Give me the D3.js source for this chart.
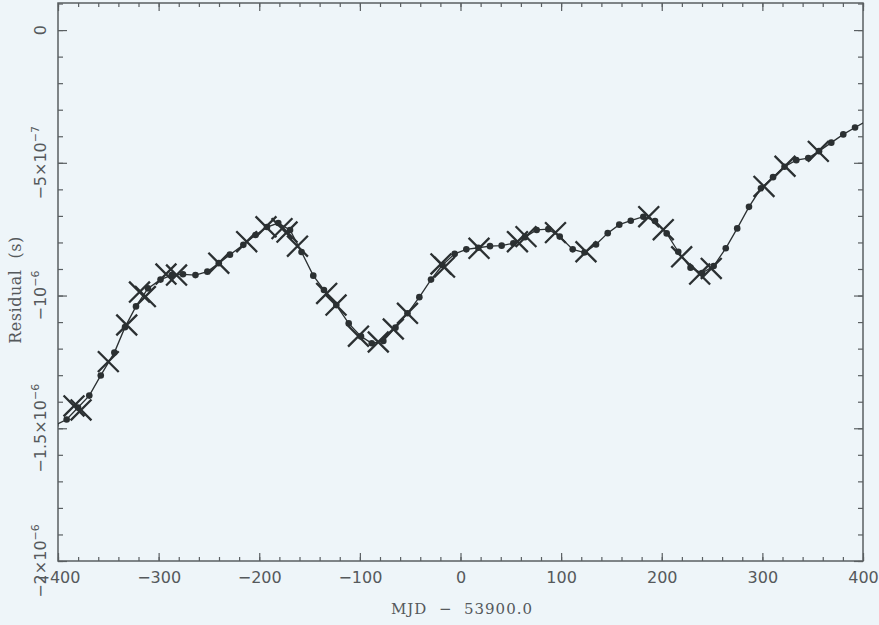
<!DOCTYPE html>
<html>
<head>
<meta charset="utf-8">
<script src="https://cdn.jsdelivr.net/npm/d3@7"></script>
<style>
  html, body { margin: 0; padding: 0; background: #eef5f9; }
  svg { display: block; }
  .axis path, .axis line { stroke: #5a5f62; }
  .axis text { fill: #55595c; font-family: "DejaVu Sans", sans-serif; font-size: 16px; }
</style>
</head>
<body>
<div id="chart"></div>
<script>
// residual data (microseconds) vs MJD - 53900.0
const dotDay = [-402.8, -391.4, -380.1, -368.9, -357.5, -344.0, -333.4, -322.5, -310.6, -298.1,
  -287.0, -275.8, -263.4, -251.6, -240.2, -229.1, -215.8, -203.7, -192.3, -181.1,
  -169.4, -158.0, -146.3, -135.7, -123.4, -111.1, -98.9, -88.2, -76.7, -64.6,
  -52.7, -40.9, -29.3, -17.9, -5.8, 5.8, 17.7, 29.3, 40.9, 52.5,
  64.1, 75.7, 87.3, 98.6, 111.5, 123.2, 134.7, 146.3, 157.8, 169.2,
  181.7, 193.3, 204.9, 216.4, 228.6, 240.0, 251.6, 263.6, 275.0, 286.7,
  298.6, 310.6, 322.0, 333.7, 345.6, 356.3, 368.5, 380.4, 392.1, 403.5];
const dotRes = [-1.488, -1.467, -1.422, -1.377, -1.301, -1.215, -1.119, -1.041, -0.973, -0.940,
  -0.923, -0.920, -0.923, -0.910, -0.878, -0.846, -0.809, -0.772, -0.742, -0.727,
  -0.753, -0.836, -0.925, -0.979, -1.036, -1.105, -1.154, -1.180, -1.171, -1.121,
  -1.067, -1.006, -0.940, -0.885, -0.843, -0.826, -0.820, -0.814, -0.812, -0.803,
  -0.780, -0.753, -0.750, -0.778, -0.826, -0.838, -0.808, -0.765, -0.733, -0.718,
  -0.703, -0.719, -0.766, -0.835, -0.895, -0.915, -0.889, -0.822, -0.747, -0.666,
  -0.596, -0.554, -0.515, -0.490, -0.482, -0.456, -0.424, -0.393, -0.367, -0.343];

const crossDay = [-384.1, -377.1, -350.0, -331.7, -319.0, -313.2, -292.7, -282.2, -240.2, -212.5,
  -193.3, -177.4, -172.4, -162.0, -133.0, -123.7, -101.4, -81.7, -66.8, -52.7,
  -19.4, -15.9, 18.4, 56.6, 65.1, 94.4, 124.7, 187.1, 201.5, 219.8,
  237.7, 249.2, 301.6, 322.5, 355.6];
const crossRes = [-1.416, -1.431, -1.249, -1.111, -0.987, -1.004, -0.919, -0.923, -0.878, -0.797,
  -0.741, -0.748, -0.761, -0.814, -0.992, -1.036, -1.153, -1.175, -1.126, -1.067,
  -0.881, -0.893, -0.822, -0.797, -0.778, -0.763, -0.835, -0.703, -0.752, -0.854,
  -0.919, -0.898, -0.589, -0.513, -0.457];

const xTicks = [-400, -300, -200, -100, 0, 100, 200, 300, 400];
const yTicks = [0, -0.5, -1, -1.5, -2];
const yTickBase = ["0", "\u22125\u00d710", "\u221210", "\u22121.5\u00d710", "\u22122\u00d710"];
const yTickExp = ["", "\u22127", "\u22126", "\u22126", "\u22126"];

const width = 879, height = 625;
const margin = { left: 58, right: 16, top: 3, bottom: 64 };
const ink = "#2b3032";

const svg = d3.select("#chart").append("svg")
  .attr("width", width)
  .attr("height", height);

const x = d3.scaleLinear().domain([-400, 400]).range([margin.left, width - margin.right]);
const y = d3.scaleLinear().domain([-2, 0.102]).range([height - margin.bottom, margin.top]);

const x0 = x.range()[0], x1 = x.range()[1];
const yb = y.range()[0], yt = y.range()[1];

svg.append("clipPath").attr("id", "plotclip")
  .append("rect")
  .attr("x", x0).attr("y", yt)
  .attr("width", x1 - x0).attr("height", yb - yt);

// minor + major ticks, pointing inward on all four sides
const xMinor = d3.range(-400, 401, 20);
const yMinor = d3.range(-20, 2, 1).map(v => v / 10);

function addAxis(axisFn, tr, vals, size, fmt, scale) {
  const g = svg.append("g").attr("class", "axis").attr("transform", tr)
    .call(axisFn(scale).tickValues(vals).tickSize(size).tickSizeOuter(0).tickFormat(fmt));
  g.select(".domain").remove();
  return g;
}

addAxis(d3.axisBottom, `translate(0,${yb})`, xMinor, -4, "", x);
addAxis(d3.axisTop, `translate(0,${yt})`, xMinor, -4, "", x);
addAxis(d3.axisLeft, `translate(${x0},0)`, yMinor, -5, "", y);
addAxis(d3.axisRight, `translate(${x1},0)`, yMinor, -5, "", y);

const xAxis = addAxis(d3.axisBottom, `translate(0,${yb})`, xTicks, -8, d3.format("d"), x);
xAxis.call(g => g.selectAll(".tick text").attr("y", 11));
addAxis(d3.axisTop, `translate(0,${yt})`, xTicks, -8, "", x);
addAxis(d3.axisLeft, `translate(${x0},0)`, yTicks, -9, "", y);
addAxis(d3.axisRight, `translate(${x1},0)`, yTicks, -9, "", y);

svg.selectAll(".axis line").attr("stroke-width", 1.2);

// frame
svg.append("rect")
  .attr("x", x0).attr("y", yt)
  .attr("width", x1 - x0).attr("height", yb - yt)
  .attr("fill", "none")
  .attr("stroke", "#5a5f62")
  .attr("stroke-width", 1.5);

// rotated y tick labels with superscript exponents
yTicks.forEach((v, i) => {
  const t = svg.append("text")
    .attr("transform", `translate(${x0 - 12},${y(v)}) rotate(-90)`)
    .attr("text-anchor", "middle")
    .attr("fill", "#55595c")
    .style("font-family", "DejaVu Sans, sans-serif")
    .style("font-size", "16px");
  t.append("tspan").text(yTickBase[i]);
  if (yTickExp[i]) {
    t.append("tspan").attr("dy", -7).style("font-size", "11px").text(yTickExp[i]);
  }
});

// axis titles
svg.append("text")
  .attr("x", 462)
  .attr("y", 614)
  .attr("text-anchor", "middle")
  .attr("fill", "#55595c")
  .style("font-family", "DejaVu Serif, serif")
  .style("font-size", "15px")
  .style("letter-spacing", "1px")
  .style("white-space", "pre")
  .text("MJD  \u2212  53900.0");

svg.append("text")
  .attr("transform", `translate(21,290) rotate(-90)`)
  .attr("text-anchor", "middle")
  .attr("fill", "#55595c")
  .style("font-family", "DejaVu Serif, serif")
  .style("font-size", "16px")
  .style("letter-spacing", "0.5px")
  .style("white-space", "pre")
  .text("Residual  (s)");

// data
const plot = svg.append("g").attr("clip-path", "url(#plotclip)");

const dots = dotDay.map((d, i) => ({ day: d, res: dotRes[i] }));
const crosses = crossDay.map((d, i) => ({ day: d, res: crossRes[i] }));

const line = d3.line().x(d => x(d.day)).y(d => y(d.res));

plot.append("path")
  .datum(dots)
  .attr("d", line)
  .attr("fill", "none")
  .attr("stroke", ink)
  .attr("stroke-width", 1.3);

plot.selectAll(".dot")
  .data(dots)
  .enter()
  .append("circle")
  .attr("class", "dot")
  .attr("cx", d => x(d.day))
  .attr("cy", d => y(d.res))
  .attr("r", 3.3)
  .attr("fill", ink);

const xSym = d3.symbol(d3.symbolX, 285);
plot.selectAll(".cross")
  .data(crosses)
  .enter()
  .append("path")
  .attr("class", "cross")
  .attr("transform", d => `translate(${x(d.day)},${y(d.res)})`)
  .attr("d", xSym)
  .attr("fill", "none")
  .attr("stroke", ink)
  .attr("stroke-width", 2.3);
</script>
</body>
</html>
